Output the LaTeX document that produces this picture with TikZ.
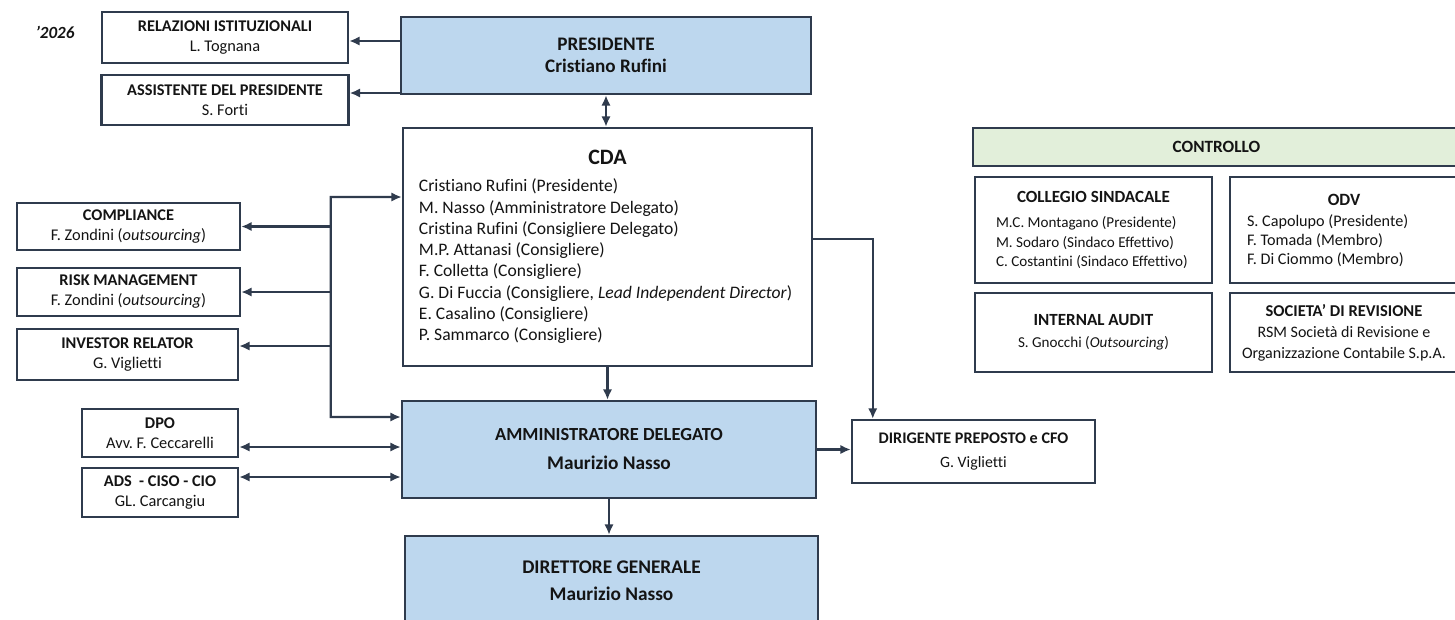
\documentclass[tikz,border=0pt]{standalone}
\usepackage{fontspec}
\setmainfont{Carlito}[Ligatures={TeX,NoCommon}]
\usetikzlibrary{arrows.meta}
\definecolor{bord}{HTML}{2F3B4D}
\definecolor{ink}{HTML}{141414}
\definecolor{azz}{HTML}{BDD7EE}
\definecolor{verde}{HTML}{E2EFDA}
\newcommand{\fsz}[2]{\fontsize{#1}{#2}\selectfont}
\tikzset{
  box/.style = {draw=bord, line width=1.4pt, fill=white, text=ink, inner sep=0pt, align=center},
  bluebox/.style = {box, fill=azz},
  greenbox/.style = {box, fill=verde},
  small/.style = {box, font=\fsz{9.3}{11.4}},
  link/.style = {bord, line width=1.3pt},
}
\begin{document}
\begin{tikzpicture}[node distance = 1cm, auto, >={Latex[length=2.1mm, width=1.9mm]}]
    \useasboundingbox (-12.12,1.11) rectangle (16.98,-11.27);

    \node (Presidente) [bluebox, minimum width=8.2cm, minimum height=1.54cm, font=\fsz{10.9}{12.5}\bfseries] {PRESIDENTE\\Cristiano Rufini};
    \node (CDA) [box, node distance = 3.83cm, below of = Presidente, xshift=0.03cm, minimum width=8.18cm, minimum height=4.76cm, align=left, font=\fsz{10}{12.1}]
        {\makebox[7.54cm]{\fsz{12.5}{15}\bfseries CDA}\\[3.3pt]
         Cristiano Rufini (Presidente)\\
         M. Nasso (Amministratore Delegato)\\
         Cristina Rufini (Consigliere Delegato)\\
         M.P. Attanasi (Consigliere)\\
         F. Colletta (Consigliere)\\
         G. Di Fuccia (Consigliere, \textit{Lead Independent Director})\\
         E. Casalino (Consigliere)\\
         P. Sammarco (Consigliere)};
    \node (AD) [bluebox, node distance = 4.05cm, below of = CDA, xshift=0.03cm, minimum width=8.28cm, minimum height=1.94cm, font=\fsz{10.5}{16.5}\bfseries] {AMMINISTRATORE DELEGATO\\{\fsz{11}{16.5}Maurizio Nasso}};
    \node (DG) [bluebox, node distance = 2.62cm, below of = AD, xshift=0.05cm, minimum width=8.26cm, minimum height=1.78cm, font=\fsz{11}{15.4}\bfseries] {DIRETTORE GENERALE\\Maurizio Nasso};

    \node (Relazioni) [small, node distance = 7.62cm, left of = Presidente, yshift=0.36cm, minimum width=4.92cm, minimum height=1.02cm] {\textbf{RELAZIONI ISTITUZIONALI}\\L. Tognana};
    \node (Assistente) [small, node distance = 1.25cm, below of = Relazioni, minimum width=4.94cm, minimum height=1cm] {\textbf{ASSISTENTE DEL PRESIDENTE}\\S. Forti};
    \node (Anno) [node distance = 3.4cm, left of = Relazioni, yshift=0.11cm, inner sep=0pt, text=ink, font=\fsz{9.7}{11}\bfseries\itshape] {’2026};

    \node (Compliance) [small, node distance = 9.58cm, left of = CDA, yshift=0.41cm, minimum width=4.46cm, minimum height=0.94cm] {\textbf{COMPLIANCE}\\F. Zondini (\textit{outsourcing})};
    \node (Risk) [small, node distance = 1.31cm, below of = Compliance, minimum width=4.46cm, minimum height=0.96cm] {\textbf{RISK MANAGEMENT}\\F. Zondini (\textit{outsourcing})};
    \node (Investor) [small, node distance = 1.25cm, below of = Risk, xshift=-0.02cm, minimum width=4.42cm, minimum height=1.02cm] {\textbf{INVESTOR RELATOR}\\G. Viglietti};
    \node (DPO) [small, node distance = 8.98cm, left of = AD, yshift=0.33cm, minimum width=3.12cm, minimum height=0.96cm] {\textbf{DPO}\\Avv.\ F. Ceccarelli};
    \node (ADS) [small, node distance = 1.19cm, below of = DPO, minimum width=3.12cm, minimum height=0.98cm] {\textbf{ADS\ \ - CISO - CIO}\\GL. Carcangiu};

    \node (Dirigente) [box, node distance = 7.29cm, right of = AD, yshift=-0.04cm, minimum width=4.86cm, minimum height=1.26cm, font=\fsz{9}{13.7}] {\textbf{\fsz{9.2}{13.7}DIRIGENTE PREPOSTO e CFO}\\G. Viglietti};

    \node (Controllo) [greenbox, node distance = 12.18cm, right of = CDA, yshift=2cm, minimum width=9.74cm, minimum height=0.76cm, font=\fsz{9.8}{11}\bfseries] {CONTROLLO};
    \node (Collegio) [box, node distance = 1.66cm, below of = Controllo, xshift=-2.46cm, minimum width=4.74cm, minimum height=2.12cm, align=left, font=\fsz{8.6}{11.1}]
        {\makebox[3.9cm]{\fsz{9.7}{11}\bfseries COLLEGIO SINDACALE}\\[3.1pt]
         M.C. Montagano (Presidente)\\
         M. Sodaro (Sindaco Effettivo)\\
         C. Costantini (Sindaco Effettivo)};
    \node (ODV) [box, node distance = 5.01cm, right of = Collegio, minimum width=4.56cm, minimum height=2.12cm, align=left, font=\fsz{9.2}{10.8}]
        {\makebox[3.88cm]{\fsz{9.8}{11}\bfseries ODV}\\[1.2pt]
         S. Capolupo (Presidente)\\
         F. Tomada (Membro)\\
         F. Di Ciommo (Membro)};
    \node (InternalAudit) [box, node distance = 2.05cm, below of = Collegio, minimum width=4.74cm, minimum height=1.58cm, font=\fsz{8.6}{12.5}] {\textbf{\fsz{9.7}{12.5}INTERNAL AUDIT}\\S. Gnocchi (\textit{Outsourcing})};
    \node (Revisione) [box, node distance = 5.01cm, right of = InternalAudit, minimum width=4.56cm, minimum height=1.58cm, font=\fsz{9.1}{12}] {\textbf{\fsz{9.4}{12}SOCIETA’ DI REVISIONE}\\RSM Società di Revisione e\\Organizzazione Contabile S.p.A.};

    % presidente
    \coordinate (RelIn) at ([yshift=-0.07cm]Relazioni.east);
    \coordinate (AssIn) at ([yshift=0.14cm]Assistente.east);
    \draw[link, ->] (RelIn -| Presidente.west) -- (RelIn);
    \draw[link, ->] (AssIn -| Presidente.west) -- (AssIn);
    \draw[link, <->] (Presidente.south) -- (Presidente.south |- CDA.north);

    % left side
    \coordinate (BusTop) at ([xshift=-1.42cm, yshift=1cm]CDA.west);
    \coordinate (BusBottom) at ([xshift=-1.4cm, yshift=0.65cm]AD.west);
    \coordinate (InvIn) at ([yshift=0.17cm]Investor.east);
    \coordinate (DPOIn) at ([yshift=-0.28cm]DPO.east);
    \coordinate (ADSIn) at ([yshift=0.31cm]ADS.east);
    \draw[link, <->] (BusTop -| CDA.west) -- (BusTop) -- (BusBottom) -- (BusBottom -| AD.west);
    \draw[link, ->] (BusTop |- Compliance.east) -- (Compliance.east);
    \draw[link, ->] (BusTop |- Risk.east) -- (Risk.east);
    \draw[link, ->] (BusTop |- InvIn) -- (InvIn);
    \draw[link, <->] (DPOIn) -- (DPOIn -| AD.west);
    \draw[link, <->] (ADSIn) -- (ADSIn -| AD.west);

    % down and right
    \coordinate (CDAOut) at ([yshift=0.16cm]CDA.east);
    \coordinate (DirIn) at ([xshift=0.44cm]Dirigente.north west);
    \draw[link, ->] (CDA.south) -- (CDA.south |- AD.north);
    \draw[link, ->] (AD.south) -- (AD.south |- DG.north);
    \draw[link, ->] (AD.east) -- (AD.east -| Dirigente.west);
    \draw[link, ->] (CDAOut) -| (DirIn);
\end{tikzpicture}
\end{document}
